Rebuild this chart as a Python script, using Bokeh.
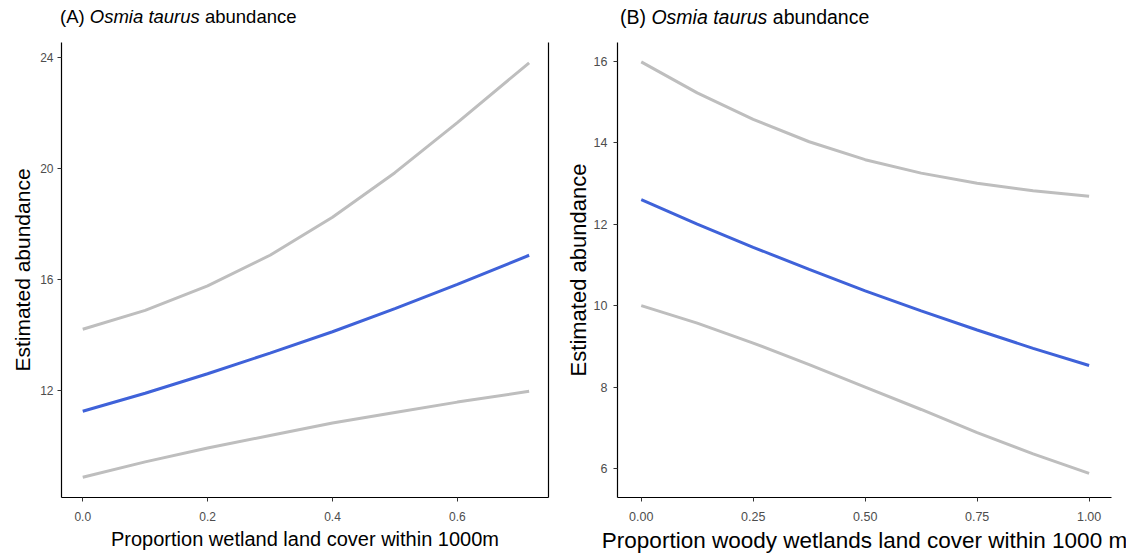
from bokeh.plotting import figure
from bokeh.layouts import row, column
from bokeh.models import LinearAxis, FixedTicker, Range1d, PrintfTickFormatter, Div
from bokeh.embed import file_html
from bokeh.resources import INLINE

# ---- Panel A data: wetland land cover ----
a_x = [0.0, 0.1, 0.2, 0.3, 0.4, 0.5, 0.6, 0.715]
a_fit = [11.27, 11.92, 12.62, 13.36, 14.13, 14.96, 15.83, 16.88]
a_upper = [14.22, 14.90, 15.78, 16.88, 18.25, 19.85, 21.65, 23.80]
a_lower = [8.90, 9.45, 9.95, 10.40, 10.85, 11.23, 11.60, 11.99]
a_xticks = [0.0, 0.2, 0.4, 0.6]
a_yticks = [12, 16, 20, 24]

# ---- Panel B data: woody wetlands land cover ----
b_x = [0.0, 0.125, 0.25, 0.375, 0.5, 0.625, 0.75, 0.875, 1.0]
b_fit = [12.60, 12.00, 11.43, 10.89, 10.36, 9.87, 9.40, 8.95, 8.53]
b_upper = [15.98, 15.22, 14.57, 14.02, 13.58, 13.25, 13.00, 12.82, 12.68]
b_lower = [10.00, 9.57, 9.08, 8.55, 8.00, 7.45, 6.88, 6.36, 5.88]
b_xticks = [0.0, 0.25, 0.5, 0.75, 1.0]
b_yticks = [6, 8, 10, 12, 14, 16]

titles = [("(A)", "Osmia taurus", "abundance"), ("(B)", "Osmia taurus", "abundance")]

FONT = "Liberation Sans"
BLUE = "#3F62D9"
GREY = "#BEBEBE"
TITLE_H = 42


def style(p, tick_px, xtitle_px, ytitle_px, y_std, y_lab_std, x_std, x_lab_std):
    p.xgrid.visible = False
    p.ygrid.visible = False
    p.outline_line_color = None
    for ax in p.axis:
        ax.axis_line_color = "black"
        ax.axis_line_width = 1.2
        ax.major_tick_line_color = "#333333"
        ax.major_tick_out = 4
        ax.major_tick_in = 0
        ax.minor_tick_line_color = None
        ax.major_label_text_font = FONT
        ax.major_label_text_font_size = tick_px
        ax.major_label_text_color = "#4D4D4D"
        ax.axis_label_text_font = FONT
        ax.axis_label_text_font_style = "normal"
        ax.axis_label_text_color = "black"
    p.xaxis.axis_label_text_font_size = xtitle_px
    p.yaxis.axis_label_text_font_size = ytitle_px
    p.yaxis.major_label_standoff = y_std
    p.yaxis.axis_label_standoff = y_lab_std
    p.xaxis.major_label_standoff = x_std
    p.xaxis.axis_label_standoff = x_lab_std


def span(t, left, size, baseline=24):
    pre, ital, post = t
    return (f'<div style="position:absolute; left:{left}px; top:{round(baseline - 0.8465 * size, 1)}px; '
            f'font-family:\'{FONT}\'; font-size:{size}px; line-height:{size}px; color:black; '
            f'white-space:nowrap;">{pre} <i>{ital}</i> {post}</div>')


title_html = ('<div style="position:relative; width:1126px; height:42px; margin:0; padding:0;">'
              + span(titles[0], 60, 18.5) + span(titles[1], 620, 19.5) + '</div>')
header = Div(text=title_html, width=1126, height=TITLE_H, margin=0,
             styles={"margin": "0", "padding": "0"})

# ---------------- Panel A ----------------
pa = figure(width=556, height=555 - TITLE_H, output_backend="svg", toolbar_location=None,
            x_range=Range1d(-0.034, 0.746), y_range=Range1d(8.17, 24.53),
            min_border_left=61, min_border_right=8, min_border_top=0, min_border_bottom=55)
pa.line(a_x, a_upper, line_color=GREY, line_width=3)
pa.line(a_x, a_lower, line_color=GREY, line_width=3)
pa.line(a_x, a_fit, line_color=BLUE, line_width=3)
pa.xaxis.ticker = FixedTicker(ticks=a_xticks)
pa.yaxis.ticker = FixedTicker(ticks=a_yticks)
pa.xaxis.formatter = PrintfTickFormatter(format="%.1f")
pa.yaxis.formatter = PrintfTickFormatter(format="%d")
pa.xaxis.axis_label = "Proportion wetland land cover within 1000m"
pa.yaxis.axis_label = "Estimated abundance"
style(pa, "12px", "20px", "21px", 4, 3, 10, 4)
rax = LinearAxis(ticker=FixedTicker(ticks=[]), axis_line_color="black", axis_line_width=1.2,
                 major_tick_line_color=None, minor_tick_line_color=None,
                 major_label_text_font_size="0px")
pa.add_layout(rax, "right")

# ---------------- Panel B ----------------
pb = figure(width=570, height=555 - TITLE_H, output_backend="svg", toolbar_location=None,
            x_range=Range1d(-0.053, 1.05), y_range=Range1d(5.29, 16.456),
            min_border_left=61, min_border_right=15, min_border_top=0, min_border_bottom=55)
pb.line(b_x, b_upper, line_color=GREY, line_width=3)
pb.line(b_x, b_lower, line_color=GREY, line_width=3)
pb.line(b_x, b_fit, line_color=BLUE, line_width=3)
pb.xaxis.ticker = FixedTicker(ticks=b_xticks)
pb.yaxis.ticker = FixedTicker(ticks=b_yticks)
pb.xaxis.formatter = PrintfTickFormatter(format="%.2f")
pb.yaxis.formatter = PrintfTickFormatter(format="%d")
pb.xaxis.axis_label = "Proportion woody wetlands land cover within 1000 m"
pb.yaxis.axis_label = "Estimated abundance"
style(pb, "12.5px", "22.5px", "22px", 6, 0, 10, 4)

layout = column(header, row(pa, pb), spacing=0)
open("out.html", "w").write(file_html(layout, INLINE))
